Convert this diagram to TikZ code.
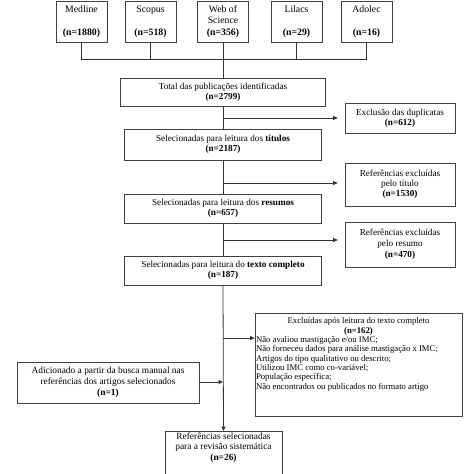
\documentclass[tikz,border=0pt]{standalone}
\usepackage{fontspec}
\setmainfont{Liberation Serif}
\usetikzlibrary{arrows.meta,calc}
\begin{document}
\begin{tikzpicture}[x=1pt,y=-1pt,
  box/.style={draw=black!75,line width=0.7pt,align=center,inner sep=1pt,font=\fontsize{9.2}{9.5}\selectfont},
  srcbox/.style={box,minimum width=51pt,minimum height=41pt,font=\fontsize{9.8}{11.5}\selectfont},
  ln/.style={draw=black!80,line width=0.8pt},
  arr/.style={ln,-{Triangle[length=4.5pt,width=4pt]}}]
\useasboundingbox (0,0) rectangle (474,474);
% source boxes
\node[srcbox] (med) at (81.5,21.5) {Medline\\[11.5pt]\textbf{(n=1880)}};
\node[srcbox] (sco) at (150.5,21.5) {Scopus\\[11.5pt]\textbf{(n=518)}};
\node[srcbox] (wos) at (223,21.5) {Web of\\Science\\\textbf{(n=356)}};
\node[srcbox] (lil) at (296.5,21.5) {Lilacs\\[11.5pt]\textbf{(n=29)}};
\node[srcbox] (ado) at (366.5,21.5) {Adolec\\[11.5pt]\textbf{(n=16)}};
% main chain
\node[box,minimum width=205pt,minimum height=28pt] (tot) at (223,92) {Total das publicações identificadas\\\textbf{(n=2799)}};
\node[box,minimum width=197pt,minimum height=31pt] (tit) at (223,144.5) {Selecionadas para leitura dos \textbf{títulos}\\\textbf{(n=2187)}};
\node[box,minimum width=197pt,minimum height=29pt] (res) at (223,208.5) {Selecionadas para leitura dos \textbf{resumos}\\\textbf{(n=657)}};
\node[box,minimum width=197pt,minimum height=29pt] (txt) at (223,270.5) {Selecionadas para leitura do \textbf{texto completo}\\\textbf{(n=187)}};
\node[box,minimum width=117pt,minimum height=50pt,anchor=north,font=\fontsize{9.4}{10.5}\selectfont] (fin) at (223.5,431) {\rule{0pt}{7pt}Referências selecionadas\\para a revisão sistemática\\\textbf{(n=26)}\\[12pt]};
% exclusion boxes
\node[box,minimum width=110pt,minimum height=30pt,font=\fontsize{9.2}{10}\selectfont] (dup) at (400,118) {Exclusão das duplicatas\\\textbf{(n=612)}};
\node[box,minimum width=110pt,minimum height=43pt,font=\fontsize{9.2}{10}\selectfont] (etit) at (400,184.5) {Referências excluídas\\pelo título\\\textbf{(n=1530)}};
\node[box,minimum width=110pt,minimum height=45pt,font=\fontsize{9.2}{11}\selectfont] (eres) at (400,244.5) {Referências excluídas\\pelo resumo\\\textbf{(n=470)}};
\node[box,minimum width=207pt,minimum height=103pt] (etxt) at (358.5,364.5) {};
\node[anchor=north,align=left,inner sep=0pt,font=\fontsize{8.7}{9.3}\selectfont] (etxtlabel) at ($(etxt.north)+(0,5)$) {\makebox[205pt]{Excluídas após leitura do texto completo}\\\makebox[205pt]{\textbf{(n=162)}}\\Não avaliou mastigação e/ou IMC;\\Não forneceu dados para análise mastigação x IMC;\\Artigos do tipo qualitativo ou descrito;\\Utilizou IMC como co-variável;\\População específica;\\Não encontrados ou publicados no formato artigo};
\node[box,minimum width=182pt,minimum height=41pt,font=\fontsize{9.4}{11}\selectfont] (add) at (108,382.5) {Adicionado a partir da busca manual nas\\referências dos artigos selecionados\\\textbf{(n=1)}};
% connectors
\coordinate (hub) at (223,59);
\draw[ln] (med.south) -- (med.south |- hub) -- (ado.south |- hub) -- (ado.south);
\draw[ln] (sco.south) -- (sco.south |- hub);
\draw[ln] (lil.south) -- (lil.south |- hub);
\draw[ln] (wos.south) -- (tot.north);
\draw[ln] (tot.south) -- (tit.north);
\draw[ln] (tit.south) -- (res.north);
\draw[ln] (res.south) -- (txt.north);
\draw[arr] (txt.south) -- (fin.north);
\coordinate (j1) at (223,118);
\coordinate (j2) at (223,183);
\coordinate (j3) at (223,240);
\coordinate (j4) at (223,338);
\coordinate (j5) at (223,382);
\draw[arr,shorten >=7pt] (j1) -- (j1 -| dup.west);
\draw[arr,shorten >=7pt] (j2) -- (j2 -| etit.west);
\draw[arr,shorten >=7pt] (j3) -- (j3 -| eres.west);
\draw[arr] (j4) -- (j4 -| etxt.west);
\draw[arr] (add.east |- j5) -- (j5);
\end{tikzpicture}
\end{document}
